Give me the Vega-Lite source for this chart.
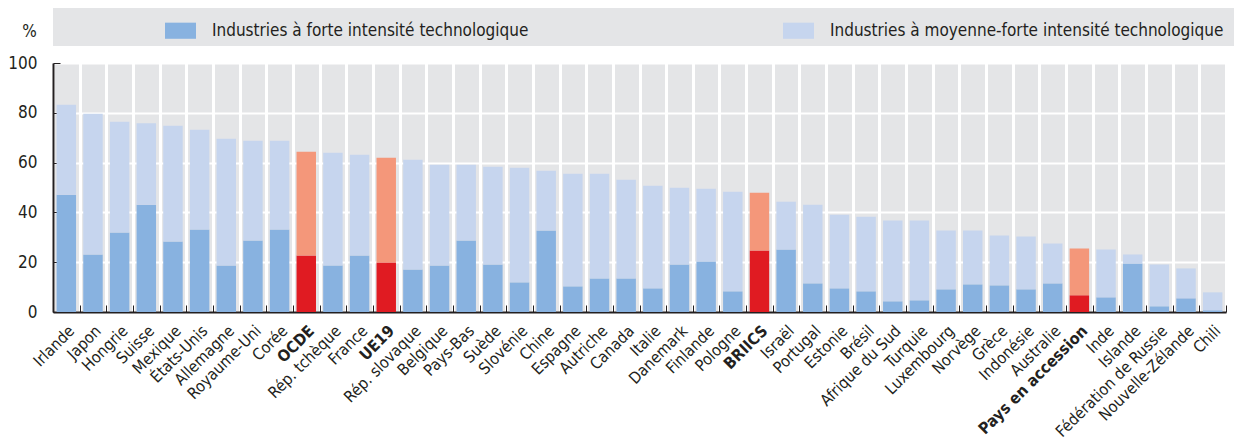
{
  "$schema": "https://vega.github.io/schema/vega-lite/v6.json",
  "width": 1173,
  "height": 249,
  "autosize": {"type": "none"},
  "padding": {"left": 53, "top": 63, "right": 8, "bottom": 129},
  "background": "white",
  "config": {
    "view": {"fill": "#e4e5e7", "stroke": null},
    "font": "DejaVu Sans Condensed"
  },
  "data": {
    "values": [
      {"c": "Irlande", "h": 47.1, "m": 36.1, "g": 0},
      {"c": "Japon", "h": 23.1, "m": 56.5, "g": 0},
      {"c": "Hongrie", "h": 31.9, "m": 44.5, "g": 0},
      {"c": "Suisse", "h": 43.1, "m": 32.7, "g": 0},
      {"c": "Mexique", "h": 28.3, "m": 46.5, "g": 0},
      {"c": "États-Unis", "h": 33.1, "m": 40.1, "g": 0},
      {"c": "Allemagne", "h": 18.7, "m": 50.9, "g": 0},
      {"c": "Royaume-Uni", "h": 28.7, "m": 40.1, "g": 0},
      {"c": "Corée", "h": 33.1, "m": 35.7, "g": 0},
      {"c": "OCDE", "h": 22.7, "m": 41.7, "g": 1},
      {"c": "Rép. tchèque", "h": 18.7, "m": 45.3, "g": 0},
      {"c": "France", "h": 22.7, "m": 40.5, "g": 0},
      {"c": "UE19", "h": 19.9, "m": 42.0, "g": 1},
      {"c": "Rép. slovaque", "h": 17.1, "m": 44.0, "g": 0},
      {"c": "Belgique", "h": 18.7, "m": 40.4, "g": 0},
      {"c": "Pays-Bas", "h": 28.7, "m": 30.4, "g": 0},
      {"c": "Suède", "h": 19.1, "m": 39.2, "g": 0},
      {"c": "Slovénie", "h": 11.9, "m": 46.0, "g": 0},
      {"c": "Chine", "h": 32.7, "m": 24.0, "g": 0},
      {"c": "Espagne", "h": 10.3, "m": 45.2, "g": 0},
      {"c": "Autriche", "h": 13.5, "m": 42.0, "g": 0},
      {"c": "Canada", "h": 13.5, "m": 39.6, "g": 0},
      {"c": "Italie", "h": 9.5, "m": 41.2, "g": 0},
      {"c": "Danemark", "h": 19.1, "m": 30.8, "g": 0},
      {"c": "Finlande", "h": 20.3, "m": 29.2, "g": 0},
      {"c": "Pologne", "h": 8.3, "m": 40.0, "g": 0},
      {"c": "BRIICS", "h": 24.7, "m": 23.2, "g": 1},
      {"c": "Israël", "h": 25.1, "m": 19.2, "g": 0},
      {"c": "Portugal", "h": 11.5, "m": 31.6, "g": 0},
      {"c": "Estonie", "h": 9.5, "m": 29.6, "g": 0},
      {"c": "Brésil", "h": 8.3, "m": 30.0, "g": 0},
      {"c": "Afrique du Sud", "h": 4.3, "m": 32.4, "g": 0},
      {"c": "Turquie", "h": 4.7, "m": 32.0, "g": 0},
      {"c": "Luxembourg", "h": 9.1, "m": 23.6, "g": 0},
      {"c": "Norvège", "h": 11.1, "m": 21.6, "g": 0},
      {"c": "Grèce", "h": 10.7, "m": 20.0, "g": 0},
      {"c": "Indonésie", "h": 9.1, "m": 21.2, "g": 0},
      {"c": "Australie", "h": 11.5, "m": 16.0, "g": 0},
      {"c": "Pays en accession", "h": 6.7, "m": 18.8, "g": 1},
      {"c": "Inde", "h": 5.9, "m": 19.2, "g": 0},
      {"c": "Islande", "h": 19.5, "m": 3.6, "g": 0},
      {"c": "Fédération de Russie", "h": 2.3, "m": 16.8, "g": 0},
      {"c": "Nouvelle-Zélande", "h": 5.5, "m": 12.0, "g": 0},
      {"c": "Chili", "h": 0.7, "m": 7.2, "g": 0}
    ]
  },
  "transform": [
    {"fold": ["h", "m"], "as": ["serie", "val"]}
  ],
  "mark": {"type": "bar", "width": {"band": 0.73}},
  "encoding": {
    "x": {
      "field": "c",
      "type": "nominal",
      "sort": null,
      "scale": {"paddingInner": 0, "paddingOuter": 0},
      "axis": {
        "title": null,
        "tickBand": "extent",
        "grid": true,
        "gridColor": "white",
        "gridWidth": 3,
        "ticks": true,
        "tickSize": -7,
        "tickColor": "#231f20",
        "tickWidth": 1,
        "domainColor": "#231f20",
        "domainWidth": 2,
        "labelAngle": -45,
        "labelAlign": "right",
        "labelBaseline": "middle",
        "labelPadding": 23,
        "labelOffset": 5,
        "labelFont": "DejaVu Sans Condensed",
        "labelFontSize": 16,
        "labelColor": "#231f20",
        "labelFontWeight": {
          "condition": {"test": "indexof(['OCDE','UE19','BRIICS','Pays en accession'], datum.value) >= 0", "value": "bold"},
          "value": "normal"
        }
      }
    },
    "y": {
      "field": "val",
      "type": "quantitative",
      "stack": "zero",
      "scale": {"domain": [0, 100], "nice": false},
      "axis": {
        "values": [0, 20, 40, 60, 80, 100],
        "grid": true,
        "gridColor": "white",
        "gridWidth": 2,
        "tickSize": -7,
        "tickColor": "#231f20",
        "domainColor": "#231f20",
        "domainWidth": 2,
        "labelFont": "DejaVu Sans Condensed",
        "labelFontSize": 17,
        "labelColor": "#231f20",
        "labelPadding": 23,
        "title": "%",
        "titleAngle": 0,
        "titleAlign": "center",
        "titleBaseline": "bottom",
        "titleX": -24,
        "titleY": -23,
        "titleFont": "DejaVu Sans Condensed",
        "titleFontSize": 17,
        "titleFontWeight": "normal",
        "titleColor": "#231f20"
      }
    },
    "order": {"field": "serie", "sort": "ascending"},
    "color": {
      "condition": [
        {"test": "datum.g == 1 && datum.serie == 'h'", "value": "#e01b22"},
        {"test": "datum.g == 1 && datum.serie == 'm'", "value": "#f4977a"}
      ],
      "field": "serie",
      "type": "nominal",
      "scale": {"domain": ["h", "m"], "range": ["#88b2e0", "#c6d5ee"]},
      "legend": {
        "orient": "none",
        "legendX": 0,
        "legendY": -55,
        "direction": "horizontal",
        "columns": 2,
        "fillColor": "#e4e5e7",
        "padding": 7,
        "title": " ",
        "titleOrient": "right",
        "titlePadding": 5,
        "symbolType": "M-1,-0.52L1,-0.52L1,0.52L-1,0.52Z",
        "symbolSize": 961,
        "symbolStrokeWidth": 0,
        "symbolOffset": 105,
        "labelOffset": 16,
        "columnPadding": 149,
        "labelLimit": 600,
        "labelFont": "DejaVu Sans Condensed",
        "labelFontSize": 17,
        "labelColor": "#231f20",
        "labelExpr": "datum.value == 'h' ? 'Industries à forte intensité technologique' : 'Industries à moyenne-forte intensité technologique'"
      }
    }
  }
}
